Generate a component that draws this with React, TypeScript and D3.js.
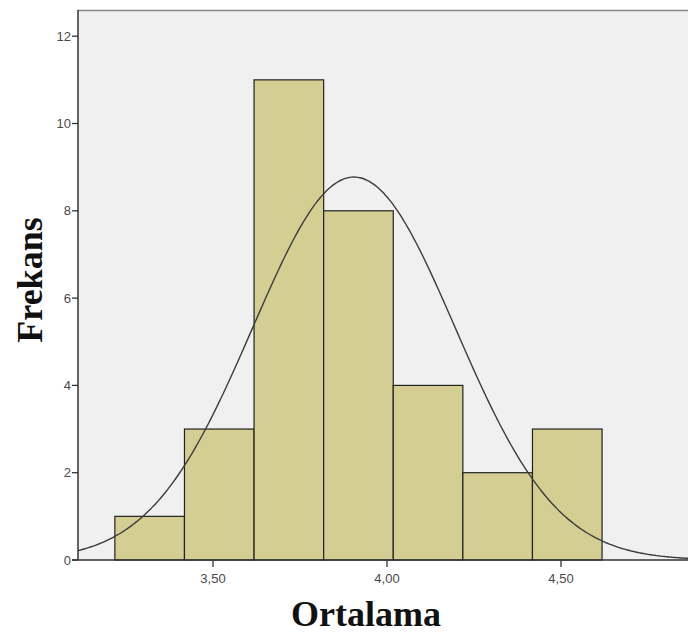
import React from "react";
import * as d3 from "d3";

const binEdges = [3.218, 3.418, 3.618, 3.818, 4.018, 4.218, 4.418, 4.618];
const counts = [1, 3, 11, 8, 4, 2, 3];
const yTicks = [0, 2, 4, 6, 8, 10, 12];
const xTicks = [3.5, 4.0, 4.5];
const curveMean = 3.905;
const curveSd = 0.291;

export default function App() {
  const W = 688, H = 634;
  const left = 78, top = 10, bottom = 560, right = 700;
  const x = d3.scaleLinear().domain([3.5, 4.5]).range([213, 561]);
  const y = d3.scaleLinear().domain([0, 12]).range([bottom, bottom - 12 * 43.65]);
  const n = d3.sum(counts);
  const bw = binEdges[1] - binEdges[0];
  const x0 = x.invert(left), x1 = x.invert(right);
  const pts = d3.range(0, 301).map(i => x0 + (x1 - x0) * i / 300);
  const dens = (v: number) => n * bw / (curveSd * Math.sqrt(2 * Math.PI)) * Math.exp(-0.5 * ((v - curveMean) / curveSd) ** 2);
  const line = d3.line<number>().x(d => x(d)).y(d => y(dens(d))).curve(d3.curveBasis);
  const fmt = (v: number) => v.toFixed(2).replace(".", ",");
  return (
    <svg width={W} height={H} style={{ position: "absolute", left: 0, top: 0, background: "#fff" }}>
      <defs>
        <clipPath id="pc"><rect x={left} y={top} width={right - left} height={bottom - top} /></clipPath>
      </defs>
      <rect x={left} y={top} width={right - left} height={bottom - top} fill="#f0f0f0" />
      <line x1={left} x2={right} y1={top + 0.5} y2={top + 0.5} stroke="#888" strokeWidth={1.5} />
      {counts.map((c, i) => (
        <rect key={i} x={x(binEdges[i])} y={y(c)} width={x(binEdges[i + 1]) - x(binEdges[i])} height={bottom - y(c)}
          fill="#d4ce93" stroke="#222" strokeWidth={1.2} />
      ))}
      <path d={line(pts) || ""} fill="none" stroke="#3c3c3c" strokeWidth={1.4} clipPath="url(#pc)" />
      <line x1={left} x2={left} y1={top} y2={bottom} stroke="#333" strokeWidth={1.5} />
      <line x1={left - 6} x2={right} y1={bottom} y2={bottom} stroke="#333" strokeWidth={1.5} />
      {yTicks.map(t => (
        <g key={t}>
          <line x1={left - 6} x2={left} y1={y(t)} y2={y(t)} stroke="#333" strokeWidth={1.3} />
          <text x={left - 7} y={y(t) + 4.5} textAnchor="end" fontFamily="Liberation Sans, Arial, sans-serif" fontSize={13} fill="#4a4a4a">{t}</text>
        </g>
      ))}
      {xTicks.map(t => (
        <g key={t}>
          <line x1={x(t)} x2={x(t)} y1={bottom} y2={bottom + 7} stroke="#333" strokeWidth={1.3} />
          <text x={x(t)} y={bottom + 23} textAnchor="middle" fontFamily="Liberation Sans, Arial, sans-serif" fontSize={13} fill="#4a4a4a">{fmt(t)}</text>
        </g>
      ))}
      <text x={366} y={626} textAnchor="middle" fontFamily="Liberation Serif, Times New Roman, serif" fontWeight="bold" fontSize={36} fill="#111">Ortalama</text>
      <text transform="translate(42,280) rotate(-90)" textAnchor="middle" fontFamily="Liberation Serif, Times New Roman, serif" fontWeight="bold" fontSize={36} fill="#111">Frekans</text>
    </svg>
  );
}
